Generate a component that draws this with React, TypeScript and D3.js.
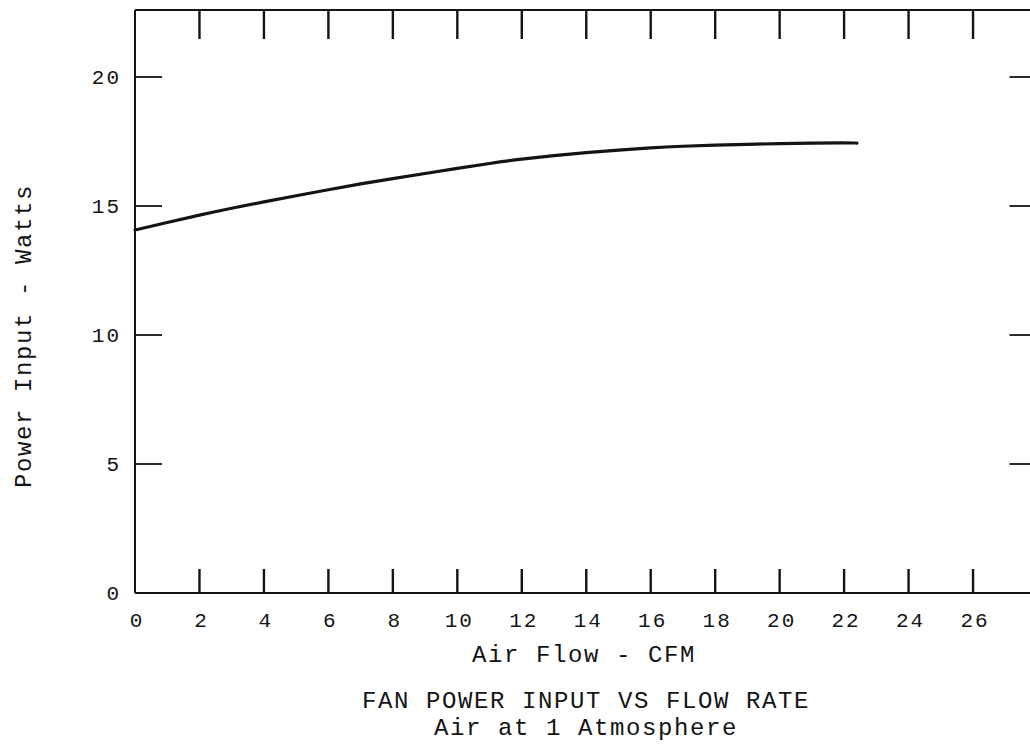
import React from "react";
import * as d3 from "d3";

// Fan power input versus air flow (air at 1 atmosphere)
const flowCfm = [0, 1, 2, 3, 4, 5, 6, 7, 8, 9, 10, 11, 12, 13, 14, 15, 16, 17, 18, 19, 20, 21, 22, 22.4];
const powerWatts = [
  14.07, 14.36, 14.65, 14.92, 15.16, 15.4, 15.63, 15.86, 16.06, 16.26, 16.46, 16.65,
  16.82, 16.96, 17.07, 17.17, 17.26, 17.32, 17.36, 17.39, 17.42, 17.44, 17.45, 17.44,
];

const xTicks = [0, 2, 4, 6, 8, 10, 12, 14, 16, 18, 20, 22, 24, 26];
const yTicks = [0, 5, 10, 15, 20];

const xTitle = "Air Flow - CFM";
const yTitle = "Power Input - Watts";
const titleLines = ["FAN POWER INPUT VS FLOW RATE", "Air at 1 Atmosphere"];

const W = 1030;
const H = 747;
const INK = "#141414";
const FONT = "'Liberation Mono', 'DejaVu Sans Mono', monospace";

export default function App() {
  const x = d3.scaleLinear().domain([0, 28]).range([135, 1037.5]);
  const y = d3.scaleLinear().domain([0, 20]).range([593, 77]);
  const yTop = 10;

  const line = d3
    .line<number>()
    .x((_, i) => x(flowCfm[i]))
    .y((d) => y(d))
    .curve(d3.curveBasis);

  const x0 = x(0);
  const x1 = x(28);
  const y0 = y(0);

  return (
    <svg
      width={W}
      height={H}
      style={{ position: "absolute", left: 0, top: 0, background: "#fff" }}
    >
      <rect x={0} y={0} width={W} height={H} fill="#fff" />
      {/* frame */}
      <g stroke={INK} strokeWidth={2} fill="none">
        <line x1={x0} x2={x1} y1={yTop} y2={yTop} />
        <line x1={x0} x2={x1} y1={y0} y2={y0} />
        <line x1={x0} x2={x0} y1={yTop} y2={y0} />
        <line x1={x1} x2={x1} y1={yTop} y2={y0} />
      </g>

      {/* top and bottom ticks */}
      <g stroke={INK} strokeWidth={2.4}>
        {xTicks
          .filter((t) => t > 0)
          .map((t) => (
            <g key={t}>
              <line x1={x(t)} x2={x(t)} y1={yTop} y2={yTop + 29} />
              <line x1={x(t)} x2={x(t)} y1={y0} y2={y0 - 24} />
            </g>
          ))}
      </g>

      {/* left and right ticks */}
      <g stroke={INK} strokeWidth={1.8}>
        {yTicks
          .filter((t) => t > 0)
          .map((t) => (
            <g key={t}>
              <line x1={x0} x2={x0 + 27} y1={y(t)} y2={y(t)} />
              <line x1={x1} x2={x1 - 28} y1={y(t)} y2={y(t)} />
            </g>
          ))}
      </g>

      {/* x tick labels */}
      <g fontFamily={FONT} fontSize={21} fill={INK} textAnchor="middle" letterSpacing={2}>
        {xTicks.map((t) => (
          <text key={t} x={x(t) + 2} y={627}>
            {t}
          </text>
        ))}
      </g>

      {/* y tick labels */}
      <g fontFamily={FONT} fontSize={21} fill={INK} textAnchor="end" letterSpacing={2}>
        {yTicks.map((t) => (
          <text key={t} x={121} y={y(t) + 7}>
            {t}
          </text>
        ))}
      </g>

      {/* curve */}
      <path
        d={line(powerWatts) ?? ""}
        fill="none"
        stroke={INK}
        strokeWidth={3.2}
        strokeLinecap="round"
        strokeLinejoin="round"
      />

      {/* axis titles */}
      <g fontFamily={FONT} fontSize={24} fill={INK} letterSpacing={1.6}>
        <text x={584} y={662} textAnchor="middle">
          {xTitle}
        </text>
        <text
          transform={`translate(31, ${336}) rotate(-90)`}
          textAnchor="middle"
        >
          {yTitle}
        </text>
        <text x={586} y={708} textAnchor="middle">
          {titleLines[0]}
        </text>
        <text x={586} y={735} textAnchor="middle">
          {titleLines[1]}
        </text>
      </g>
    </svg>
  );
}
